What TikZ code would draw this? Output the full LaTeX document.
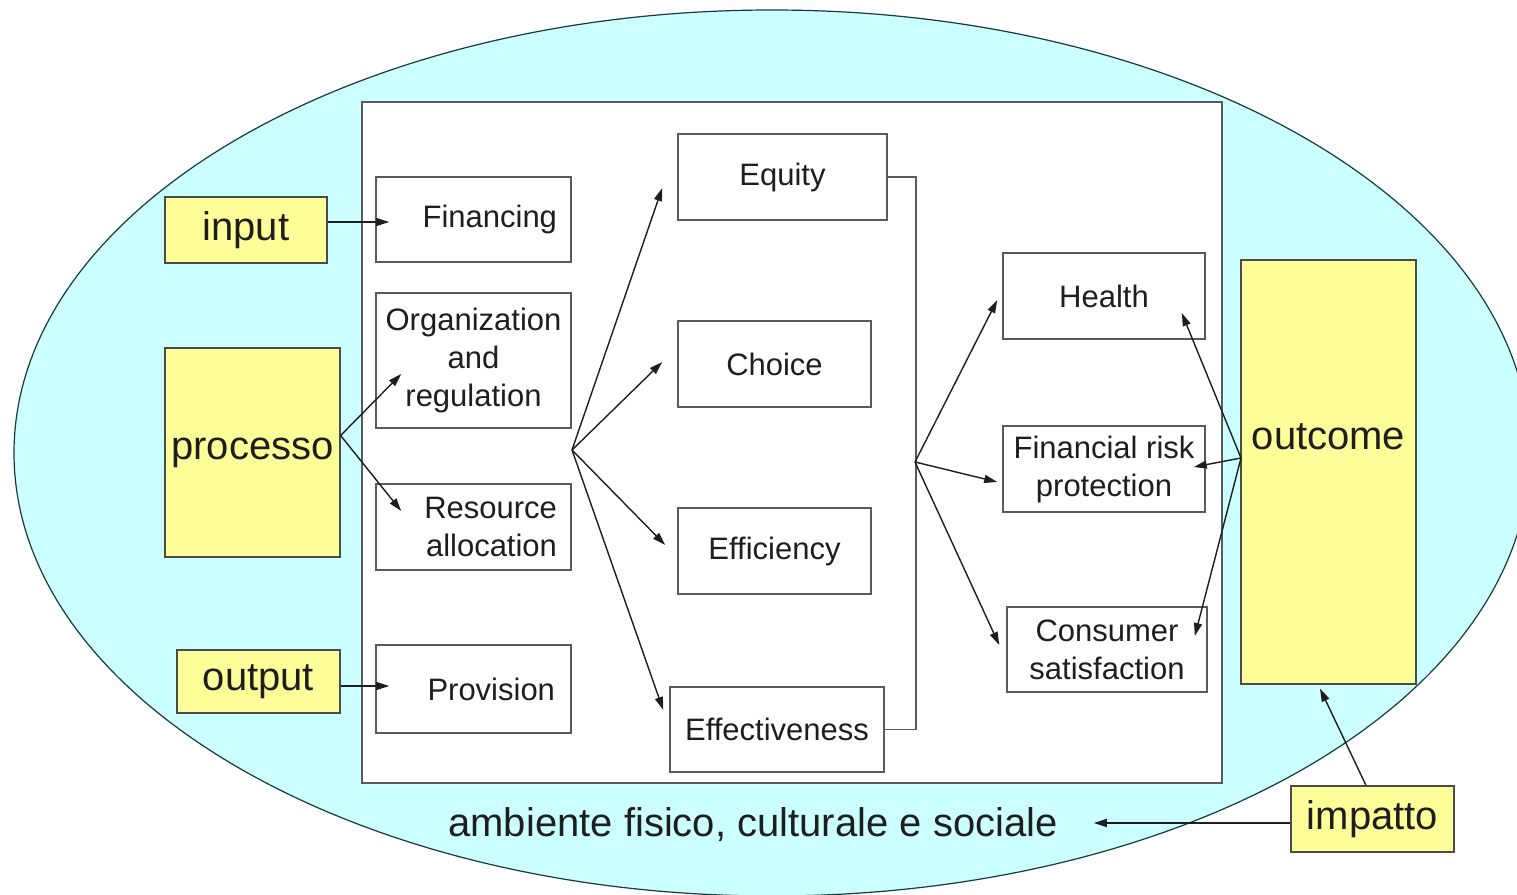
\documentclass[tikz,border=0pt]{standalone}
\usepackage{fontspec}
\setmainfont{Liberation Sans}
\usetikzlibrary{arrows.meta,calc}
\definecolor{envcyan}{RGB}{204,255,255}
\definecolor{yel}{RGB}{255,255,153}
\definecolor{boxgray}{RGB}{90,90,90}
\definecolor{ink}{RGB}{30,30,30}
\tikzset{
  box/.style={draw=boxgray, line width=1.6pt, fill=white, inner sep=0pt, align=center,
    text=ink, font=\fontsize{31}{38}\selectfont},
  rbox/.style={box, align=right, inner xsep=14pt},
  ybox/.style={draw=ink!80, line width=1.2pt, fill=yel, inner sep=0pt, text=ink,
    font=\fontsize{40}{46}\selectfont},
  arr/.style={draw=ink, line width=1.4pt, -{Triangle[length=13pt,width=8pt]}},
  plain/.style={draw=boxgray, line width=1.4pt},
}
\begin{document}
\begin{tikzpicture}[x=1pt,y=-1pt]
\useasboundingbox (0,0) rectangle (1517,894);
\clip (0,0) rectangle (1517,894);
\fill[white] (0,0) rectangle (1517,894);
% environment ellipse
\draw[fill=envcyan, draw=ink!70!teal, line width=1.2pt] (772,453) ellipse [x radius=758, y radius=443];
% system rectangle
\node[draw=boxgray, line width=1.8pt, fill=white, minimum width=860pt, minimum height=681pt, inner sep=0pt] (sys) at (792,442.5) {};
% left column
\node[rbox, text width=167pt, minimum height=85pt] (fin) at (473.5,219.5) {Financing};
\node[box, minimum width=195pt, minimum height=135pt] (org) at (473.5,360.5) {Organization\\and\\regulation};
\node[rbox, text width=167pt, minimum height=86pt] (res) at (473.5,527) {Resource\\allocation};
\node[rbox, text width=163pt, inner xsep=16pt, minimum height=88pt] (prov) at (473.5,689) {Provision};
% middle column
\node[box, minimum width=209pt, minimum height=86pt] (equity) at (782.5,177) {Equity};
\node[box, minimum width=193pt, minimum height=86pt] (choice) at (774.5,364) {Choice};
\node[box, minimum width=193pt, minimum height=86pt] (effic) at (774.5,551) {Efficiency};
\node[box, minimum width=214pt, minimum height=85pt] (effect) at (777,729.5) {Effectiveness};
% right column
\node[box, minimum width=202pt, minimum height=86pt] (health) at (1104,296) {Health};
\node[box, minimum width=202pt, minimum height=86pt] (frp) at (1104,469) {Financial risk\\protection};
\node[box, minimum width=200pt, minimum height=85pt] (cons) at (1107,649.5) {Consumer\\satisfaction};
% yellow boxes
\node[ybox, minimum width=162pt, minimum height=66pt] (input) at (246,230) {input};
\node[ybox, minimum width=175pt, minimum height=209pt] (processo) at (252.5,452.5) {processo};
\node[ybox, minimum width=163pt, minimum height=63pt] (output) at (258.5,681.5) {output};
\node[ybox, minimum width=175pt, minimum height=424pt] (outcome) at (1328.5,472) {};
\node[font=\fontsize{40}{46}\selectfont, text=ink] (outcometxt) at (1328.5,437) {outcome};
\node[ybox, minimum width=163pt, minimum height=66pt] (impatto) at (1372.5,819) {impatto};
% environment label
\node[font=\fontsize{40}{46}\selectfont, text=ink, anchor=base, inner sep=0pt] (amb) at (753,836) {ambiente fisico, culturale e sociale};
% bracket
\draw[plain] (equity.east) -- ++(28,0) coordinate (bt) |- (effect.east);
\coordinate (f1) at (572,450);
\coordinate (f2) at (915,462);
\coordinate (o1) at (1241,458);
% arrows
\draw[arr] ($(input.east)+(0,-8)$) -- ($(fin.west)+(14,2.5)$);
\draw[arr] ($(processo.east)+(0,-17)$) -- ($(org.west)+(26,13.5)$);
\draw[arr] ($(processo.east)+(0,-17)$) -- ($(res.west)+(26,-16)$);
\draw[arr] ($(output.east)+(0,4.5)$) -- ($(prov.west)+(14,-3)$);
\draw[arr] (f1) -- ($(equity.west)+(-15,11)$);
\draw[arr] (f1) -- ($(choice.west)+(-15,-2)$);
\draw[arr] (f1) -- ($(effic.west)+(-12,-6)$);
\draw[arr] (f1) -- ($(effect.west)+(-6,-19.5)$);
\draw[arr] (f2) -- ($(health.west)+(-5,4)$);
\draw[arr] (f2) -- ($(frp.west)+(-5,13)$);
\draw[arr] (f2) -- ($(cons.west)+(-7,-4.5)$);
\draw[arr] (o1) -- ($(health.east)+(-24,17)$);
\draw[arr] (o1) -- ($(frp.east)+(-12,-2)$);
\draw[arr] (o1) -- ($(cons.east)+(-13,-13.5)$);
\draw[arr] ($(impatto.north)+(-6.5,0)$) -- ($(outcome.south)+(-8.5,4)$);
\draw[arr] ($(impatto.west)+(0,4)$) -- ($(impatto.west -| amb.east)+(36,4)$);
\end{tikzpicture}
\end{document}
